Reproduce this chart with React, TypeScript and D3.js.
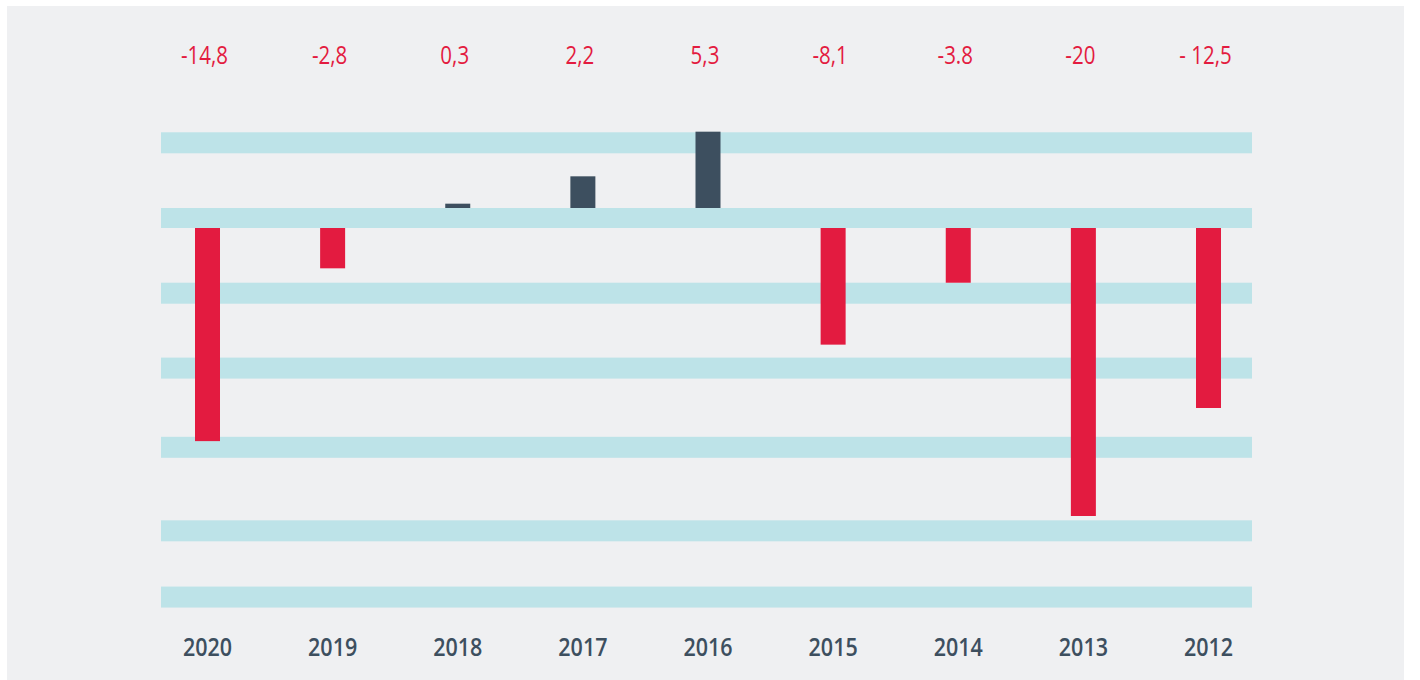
import React from "react";
import * as d3 from "d3";

const years = ["2020", "2019", "2018", "2017", "2016", "2015", "2014", "2013", "2012"];
const values = [-14.8, -2.8, 0.3, 2.2, 5.3, -8.1, -3.8, -20, -12.5];
const valueLabels = ["-14,8", "-2,8", "0,3", "2,2", "5,3", "-8,1", "-3.8", "-20", "- 12,5"];
const gridBands = [3.8, 0, -3.8, -9.0, -14.5, -20.3, -24.9];

const W = 1420;
const H = 680;
const RED = "#e31b40";
const DARK = "#3d4f5f";
const BAND = "#bde3e8";
const BG = "#eff0f2";

export default function App() {
  const zeroY = 218;
  const gap = 10; // half of zero band thickness
  const bandH = 21;
  const k = 14.4;
  const y = d3.scaleLinear().domain([0, -25]).range([zeroY, zeroY + 25 * k]);
  const x = d3.scalePoint<string>().domain(years).range([207.5, 1208.5]);
  const barW = 25;
  const bandX0 = 161;
  const bandX1 = 1252;

  const bandRect = (b: number) => {
    if (b === 0) return { y0: zeroY - gap, h: gap * 2 };
    if (b > 0) return { y0: y(b) - gap - bandH, h: bandH };
    return { y0: y(b) + gap, h: bandH };
  };

  return (
    <svg
      width={W}
      height={H}
      style={{ position: "absolute", left: 0, top: 0, display: "block" }}
      fontFamily="'Open Sans', 'Noto Sans', sans-serif"
    >
      <rect x={0} y={0} width={W} height={H} fill="#ffffff" />
      <rect x={7} y={6} width={1397} height={H - 6} fill={BG} />
      {gridBands.map((b, i) => {
        const r = bandRect(b);
        return <rect key={"b" + i} x={bandX0} y={r.y0} width={bandX1 - bandX0} height={r.h} fill={BAND} />;
      })}
      {values.map((v, i) => {
        const cx = x(years[i])!;
        const top = v >= 0 ? y(v) - gap : zeroY + gap;
        const bottom = v >= 0 ? zeroY - gap : y(v) + gap;
        return (
          <rect
            key={"r" + i}
            x={cx - barW / 2}
            y={top}
            width={barW}
            height={bottom - top}
            fill={v >= 0 ? DARK : RED}
          />
        );
      })}
      {valueLabels.map((t, i) => (
        <g key={"l" + i} transform={`translate(${x(years[i])! - 3},64) scale(0.82,1)`}>
          <text x={0} y={0} textAnchor="middle" fontSize={25} fill={RED}>
            {t}
          </text>
        </g>
      ))}
      {years.map((t, i) => (
        <g key={"y" + i} transform={`translate(${x(t)!},656) scale(0.86,1)`}>
          <text x={0} y={0} textAnchor="middle" fontSize={25} fontWeight={600} fill={DARK}>
            {t}
          </text>
        </g>
      ))}
    </svg>
  );
}
